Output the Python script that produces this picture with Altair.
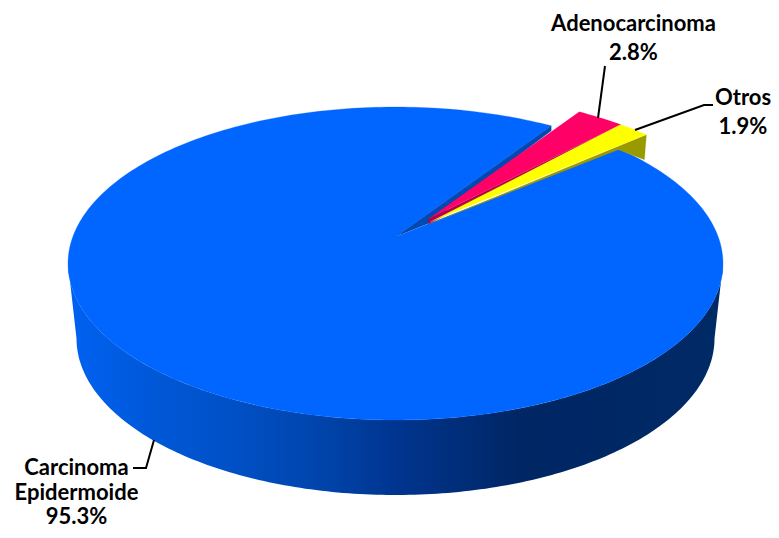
import numpy as np
import pandas as pd
import altair as alt

# --- values
categories = ["Carcinoma Epidermoide", "Adenocarcinoma", "Otros"]
shares = [95.3, 2.8, 1.9]
label_lines = [["Carcinoma", "Epidermoide", "95.3%"], ["Adenocarcinoma", "2.8%"], ["Otros", "1.9%"]]

# --- drawing set-up of the tilted pie (page pixels)
top_c, top_r = (395.5, 263.5), (327.5, 156.5)
bot_c, bot_r = (395.5, 338.5), (319.0, 156.5)
apex = (396.0, 236.5)
start_deg = 61.6       # rim angle where the big slice begins
small_sweep = 14.5     # foreshortened rim sweep of the two small slices
explode = (28.0, -14.0)
apex_red, apex_yel = (428.5, 219.0), (430.0, 222.0)

FONT = "Lato"
W, H = 763, 522


def rim(deg, c=top_c, r=top_r, off=(0, 0)):
    t = np.radians(deg)
    return c[0] + r[0] * np.cos(t) + off[0], c[1] - r[1] * np.sin(t) + off[1]


def arc(a, b, **kw):
    n = max(2, int(abs(b - a)) + 2)
    return [rim(d, **kw) for d in np.linspace(a, b, n)]


xs = alt.X("x:Q", axis=None, scale=alt.Scale(domain=[8, 8 + W], range=[0, W]))
ys = alt.Y("y:Q", axis=None, scale=alt.Scale(domain=[8 + H, 8], range=[H, 0]))


def poly(points, fill=None, stroke=None, sw=0.6):
    df = pd.DataFrame(points, columns=["x", "y"]).assign(i=lambda d: range(len(d)))
    kw = {}
    if fill is not None:
        kw["fill"] = fill
        kw["stroke"] = stroke if stroke is not None else (fill if isinstance(fill, str) else "#003590")
        kw["strokeWidth"] = sw if isinstance(fill, str) else 0
    else:
        kw["stroke"] = stroke
        kw["strokeWidth"] = sw
    return alt.Chart(df).mark_line(clip=False, **kw).encode(x=xs, y=ys, order=alt.Order("i:Q"))


small_total = shares[1] + shares[2]
red_end = start_deg - small_sweep * shares[1] / small_total
yel_end = start_deg - small_sweep

wall_grad = {
    "gradient": "linear", "x1": 0, "x2": 1, "y1": 0, "y2": 0,
    "stops": [
        {"color": "#0062f2", "offset": 0.0},
        {"color": "#0058d8", "offset": 0.13},
        {"color": "#0050c6", "offset": 0.25},
        {"color": "#0045ac", "offset": 0.38},
        {"color": "#003590", "offset": 0.5},
        {"color": "#002664", "offset": 0.69},
        {"color": "#002a66", "offset": 1.0},
    ],
}

wall = poly(arc(180, 360) + arc(360, 180, c=bot_c, r=bot_r), fill=wall_grad)
blue_rim = arc(start_deg, start_deg + 360 - small_sweep)
blue_top = poly([apex] + blue_rim, fill="#0066ff", sw=0.3)
p0 = rim(start_deg)
blue_inner = poly([apex, p0, (p0[0], p0[1] + 5), (apex_red[0], apex_red[1] + 4.5)], fill="#0048b4", sw=0.2)

red_rim = arc(start_deg, red_end, off=explode)
red_top = poly([apex_red] + red_rim, fill="#ff0066", sw=0.2)
red_inner = poly([apex_red, red_rim[-1], (apex_red[0], apex_red[1] + 5)], fill="#b3004d", sw=0.2)

yel_rim = arc(red_end, yel_end, off=explode)
q = rim(yel_end)
yel_top = poly([apex_yel] + yel_rim, fill="#ffff00", sw=0.2)
olive = poly(
    [(apex_yel[0], apex_yel[1] + 2), yel_rim[-1], (yel_rim[-1][0] - 2, yel_rim[-1][1] + 25), (q[0], q[1] + 1)],
    fill="#999900", sw=0.2,
)

leaders = [
    poly(pts, stroke="#000000", sw=2)
    for pts in (
        [(605, 66), (598, 118)],
        [(635, 130), (704, 105), (713, 105)],
        [(154, 440), (146, 468), (133, 468)],
    )
]

label_x = [76.5, 633.5, 743.0]
label_y = [[468, 492.5, 517], [24, 53], [98, 127]]
label_rows = [
    {"x": x, "y": y, "t": t}
    for lines, x, rows in zip(label_lines, label_x, label_y)
    for t, y in zip(lines, rows)
]
labels = (
    alt.Chart(pd.DataFrame(label_rows))
    .mark_text(font=FONT, fontWeight="bold", fontSize=22, color="#000000", align="center", baseline="middle", clip=False)
    .encode(x=xs, y=ys, text="t:N")
)

chart = (
    alt.layer(wall, blue_top, blue_inner, olive, red_inner, red_top, yel_top, *leaders, labels)
    .properties(width=W, height=H, padding=0, autosize="none")
    .configure_view(stroke=None)
)
chart.save("out.html", embed_options={"renderer": "svg", "actions": False})
